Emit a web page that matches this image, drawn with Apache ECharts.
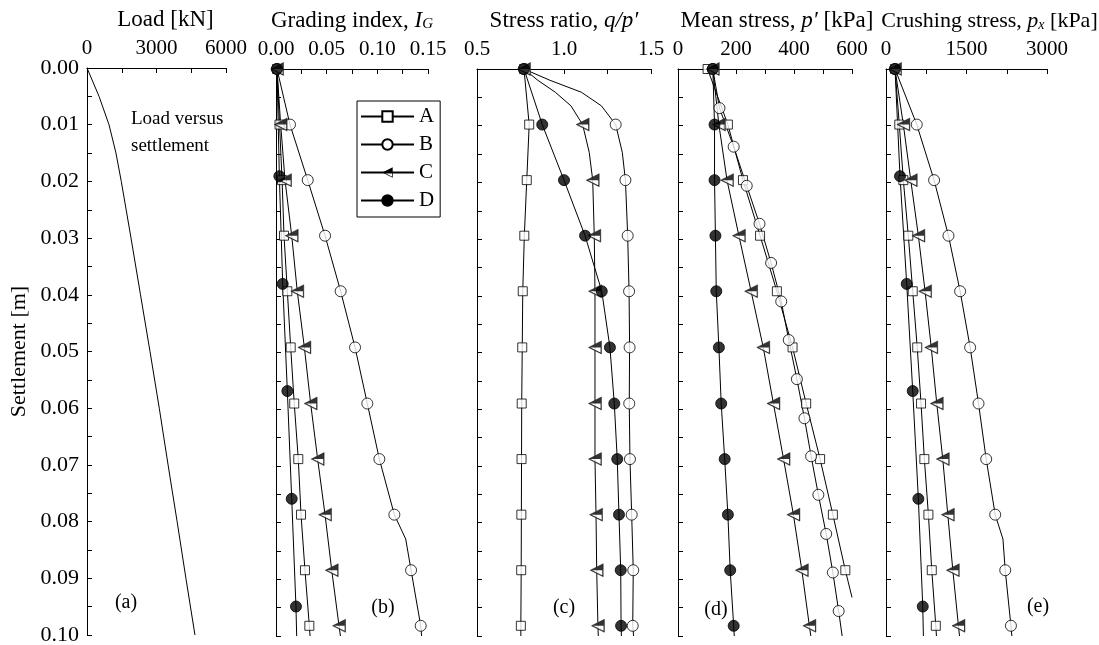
<!DOCTYPE html>
<html><head><meta charset="utf-8">
<script src="https://cdn.jsdelivr.net/npm/echarts@6/dist/echarts.min.js"></script>
<style>html,body{margin:0;padding:0;background:#fff}#c{width:1099px;height:645px}</style>
</head><body><div id="c"></div>
<script>
// ---------- DATA ----------
// settlement [m] at which markers are drawn
const sM  = [0, 0.0098, 0.0196, 0.0294, 0.0392, 0.0491, 0.0590, 0.0688, 0.0786, 0.0884, 0.0982];
const sD  = [0, 0.0189, 0.0379, 0.0568, 0.0758, 0.0948];
const sBd = [0, 0.0069, 0.0137, 0.0206, 0.0273, 0.0342, 0.0410, 0.0478, 0.0547, 0.0616, 0.0683, 0.0751, 0.0820, 0.0888, 0.0956];
const sEnd = [0.1];

// (a) load versus settlement
const loadS = [0, 0.005, 0.01, 0.015, 0.02, 0.03, 0.04, 0.05, 0.06, 0.07, 0.08, 0.09, 0.1];
const loadV = [0, 520, 950, 1250, 1480, 1900, 2310, 2720, 3120, 3500, 3890, 4270, 4660];

// (b) grading index IG
const igA = [0.001, 0.0035, 0.006, 0.0079, 0.0112, 0.0145, 0.018, 0.022, 0.0247, 0.0286, 0.0329];
const igB = [0.001, 0.0138, 0.0313, 0.0484, 0.0638, 0.078, 0.0901, 0.102, 0.1168, 0.1333, 0.1428];
const igC = [0.001, 0.0046, 0.0089, 0.0155, 0.021, 0.028, 0.0342, 0.0411, 0.0484, 0.055, 0.0622];
const igD = [0.001, 0.0033, 0.0066, 0.0112, 0.0155, 0.0197];
const igBxS = [0.0829, 0.1], igBxV = [0.128, 0.1437];
const igAend = [0.0336], igCend = [0.0636], igDend = [0.0204];

// (c) stress ratio q/p'
const qpA = [0.77, 0.80, 0.786, 0.772, 0.763, 0.760, 0.757, 0.756, 0.755, 0.754, 0.752];
const qpB = [0.77, 1.297, 1.353, 1.366, 1.374, 1.377, 1.375, 1.379, 1.389, 1.398, 1.395];
const qpC = [0.77, 1.107, 1.165, 1.174, 1.178, 1.178, 1.178, 1.178, 1.184, 1.188, 1.195];
const qpD = [0.77, 0.875, 1.0, 1.121, 1.217, 1.264, 1.289, 1.306, 1.316, 1.326, 1.328];
const qpBxS = [0.002, 0.0041, 0.0065, 0.0147, 0.1], qpBxV = [0.92, 1.10, 1.215, 1.335, 1.40];
const qpCxS = [0.002, 0.0041, 0.0065, 0.0147, 0.1], qpCxV = [0.85, 0.95, 1.04, 1.145, 1.197];
const qpAend = [0.752], qpDend = [1.33];

// (d) mean stress p' [kPa]
const pA = [102, 172, 224, 283, 341, 395, 442, 490, 534, 577];
const pB = [120, 143, 192, 237, 281, 321, 356, 382, 410, 436, 459, 484, 511, 534, 554];
const pC = [120, 141, 169, 210, 252, 294, 329, 364, 398, 427, 453];
const pD = [120, 126, 126, 129, 132, 141, 149, 161, 172, 180, 192];
const pAxS = [0.0932], pAxV = [600];
const pBend = [566], pCend = [458], pDend = [194];

// (e) crushing stress px [kPa]
const pxA = [168, 248, 323, 416, 498, 582, 653, 715, 790, 853, 928];
const pxB = [168, 573, 896, 1164, 1381, 1568, 1724, 1867, 2035, 2222, 2328];
const pxC = [168, 323, 461, 603, 728, 843, 946, 1058, 1152, 1245, 1350];
const pxD = [168, 261, 386, 498, 603, 685];
const pxBxS = [0.0829, 0.1], pxBxV = [2179, 2345];
const pxAend = [940], pxCend = [1370], pxDend = [697];

const groupNames = ['A', 'B', 'C', 'D'];
const panelTags = ['(a)', '(b)', '(c)', '(d)', '(e)'];

// ---------- STYLE / LAYOUT ----------
const FONT = '"Liberation Serif","Times New Roman",serif';
const gridBase = {outerBoundsMode: 'none', containLabel: false, height: 567};
const grids = [
  Object.assign({left: 87,  top: 68, width: 139}, gridBase),
  Object.assign({left: 276, top: 69, width: 152}, gridBase),
  Object.assign({left: 477, top: 69, width: 174}, gridBase),
  Object.assign({left: 678, top: 69, width: 174}, gridBase),
  Object.assign({left: 886, top: 69, width: 161}, gridBase)
];
const TRI_FULL = 'path://M0 50 L100 0 L100 100 Z';
// upper half solid + outline strips of the lower half (all same winding)
const TRI_HALF = 'path://M0 50 L100 50 L100 0 Z M0 50 L100 100 L100 92.5 L15 50 Z M93 50 L93 96.5 L100 100 L100 50 Z';
const STY = {
  A: {symbol: 'rect', size: 9, itemStyle: {color: '#fff', borderColor: '#000', borderWidth: 1}},
  B: {symbol: 'circle', size: 11, itemStyle: {color: '#fff', borderColor: '#000', borderWidth: 1}},
  C: {symbol: TRI_FULL, size: [13, 13], itemStyle: {color: '#fff', borderColor: '#000', borderWidth: 0.5}},
  D: {symbol: 'circle', size: 11, itemStyle: {color: '#000', borderColor: '#000', borderWidth: 1}}
};

function lineData(sMark, vMark, sExtra, vExtra) {
  const pts = [];
  vMark.forEach((v, i) => pts.push([v, sMark[i]]));
  (vExtra || []).forEach((v, i) => pts.push([v, sExtra[i]]));
  pts.sort((a, b) => a[1] - b[1]);
  return pts;
}

const series = [];
function addGroup(gi, name, sMark, vMark, sExtra, vExtra) {
  const st = STY[name];
  series.push({
    type: 'line', name: name, xAxisIndex: gi, yAxisIndex: gi,
    data: lineData(sMark, vMark, sExtra, vExtra),
    showSymbol: false,
    symbol: name === 'C' ? TRI_HALF : st.symbol,
    symbolSize: st.size,
    itemStyle: name === 'C' ? {color: '#000'} : st.itemStyle,
    lineStyle: {color: '#000', width: 1},
    z: 2, animation: false, silent: true
  });
  series.push({
    type: 'scatter', name: name + '_m' + gi, xAxisIndex: gi, yAxisIndex: gi,
    data: vMark.map((v, i) => [v, sMark[i]]),
    symbol: st.symbol, symbolSize: st.size, itemStyle: st.itemStyle,
    z: 3, animation: false, silent: true
  });
  if (name === 'C') {
    series.push({
      type: 'scatter', name: 'C_h' + gi, xAxisIndex: gi, yAxisIndex: gi,
      data: vMark.map((v, i) => [v, sMark[i]]),
      symbol: TRI_HALF, symbolSize: st.size, itemStyle: {color: '#000'},
      z: 4, animation: false, silent: true
    });
  }
}

// (a)
series.push({
  type: 'line', name: 'Load', xAxisIndex: 0, yAxisIndex: 0,
  data: loadV.map((v, i) => [v, loadS[i]]), showSymbol: false,
  lineStyle: {color: '#000', width: 1}, animation: false, silent: true
});
// (b)
addGroup(1, 'A', sM, igA, sEnd, igAend);
addGroup(1, 'B', sM, igB, igBxS, igBxV);
addGroup(1, 'C', sM, igC, sEnd, igCend);
addGroup(1, 'D', sD, igD, sEnd, igDend);
// (c)
addGroup(2, 'A', sM, qpA, sEnd, qpAend);
addGroup(2, 'B', sM, qpB, qpBxS, qpBxV);
addGroup(2, 'C', sM, qpC, qpCxS, qpCxV);
addGroup(2, 'D', sM, qpD, sEnd, qpDend);
// (d)
addGroup(3, 'A', sM.slice(0, pA.length), pA, pAxS, pAxV);
addGroup(3, 'B', sBd, pB, sEnd, pBend);
addGroup(3, 'C', sM, pC, sEnd, pCend);
addGroup(3, 'D', sM, pD, sEnd, pDend);
// (e)
addGroup(4, 'A', sM, pxA, sEnd, pxAend);
addGroup(4, 'B', sM, pxB, pxBxS, pxBxV);
addGroup(4, 'C', sM, pxC, sEnd, pxCend);
addGroup(4, 'D', sD, pxD, sEnd, pxDend);

function richName(fs) {
  return {
    i:   {fontFamily: FONT, fontSize: fs, fontStyle: 'italic', color: '#000'},
    sub: {fontFamily: FONT, fontSize: Math.round(fs * 0.65), fontStyle: 'italic', color: '#000', verticalAlign: 'bottom', padding: [8, 0, 0, 0]}
  };
}
function xAxis(gi, min, max, interval, dec, name, padLeft, fs) {
  fs = fs || 23;
  return {
    type: 'value', gridIndex: gi, position: 'top', min: min, max: max, interval: interval,
    axisLine: {show: true, onZero: false, lineStyle: {color: '#000', width: 1}},
    axisTick: {show: true, inside: true, length: 5, lineStyle: {color: '#000'}},
    minorTick: {show: true, splitNumber: 2, length: 5, lineStyle: {color: '#000'}},
    splitLine: {show: false},
    axisLabel: {color: '#000', fontFamily: FONT, fontSize: 21, margin: 9,
      formatter: v => dec === null ? String(Math.round(v)) : v.toFixed(dec)},
    name: name, nameLocation: 'middle', nameGap: 37,
    nameTextStyle: {color: '#000', fontFamily: FONT, fontSize: fs, rich: richName(fs), padding: [0, 0, 0, padLeft || 0]}
  };
}
function yAxis(gi, showLabel) {
  return {
    type: 'value', gridIndex: gi, inverse: true, min: 0, max: 0.1, interval: 0.01,
    axisLine: {show: true, onZero: false, lineStyle: {color: '#000', width: 1}},
    axisTick: {show: true, inside: true, length: 5, lineStyle: {color: '#000'}},
    minorTick: {show: true, splitNumber: 2, length: 5, lineStyle: {color: '#000'}},
    splitLine: {show: false},
    axisLabel: {show: showLabel, color: '#000', fontFamily: FONT, fontSize: 22, margin: 8, formatter: v => v.toFixed(2)},
    name: showLabel ? 'Settlement [m]' : '', nameLocation: 'middle', nameRotate: 90, nameGap: 57,
    nameTextStyle: {color: '#000', fontFamily: FONT, fontSize: 22}
  };
}

const tagPos = [[126, 603], [383, 608], [564, 608], [716, 610], [1038, 607]];
const graphic = panelTags.map((t, i) => ({
  type: 'text', x: tagPos[i][0], y: tagPos[i][1],
  style: {text: t, fontFamily: FONT, fontSize: 20, fill: '#000', align: 'center', verticalAlign: 'middle'}
}));
graphic.push({
  type: 'text', x: 131, y: 106,
  style: {text: 'Load versus\nsettlement', fontFamily: FONT, fontSize: 19, lineHeight: 27, fill: '#000', align: 'left', verticalAlign: 'top'}
});

const option = {
  backgroundColor: '#fff',
  animation: false,
  grid: grids,
  xAxis: [
    xAxis(0, 0, 6000, 3000, null, 'Load [kN]', 18),
    xAxis(1, 0, 0.15, 0.05, 2, 'Grading index, {i|I}{sub|G}'),
    xAxis(2, 0.5, 1.5, 0.5, 1, 'Stress ratio, {i|q/p\u2032}'),
    xAxis(3, 0, 600, 200, null, 'Mean stress, {i|p\u2032} [kPa]', 24),
    xAxis(4, 0, 3000, 1500, null, 'Crushing stress, {i|p}{sub|x} [kPa]', 46, 22)
  ],
  yAxis: [yAxis(0, true), yAxis(1, false), yAxis(2, false), yAxis(3, false), yAxis(4, false)],
  legend: {
    data: groupNames, orient: 'vertical', left: 357, top: 101,
    itemWidth: 53, itemHeight: 13, itemGap: 7,
    borderColor: '#000', borderWidth: 1, padding: [5, 6, 6, 3],
    selectedMode: false,
    textStyle: {color: '#000', fontFamily: FONT, fontSize: 21}
  },
  graphic: graphic,
  series: series
};
const chart = echarts.init(document.getElementById('c'));
chart.setOption(option);
</script>
</body></html>
